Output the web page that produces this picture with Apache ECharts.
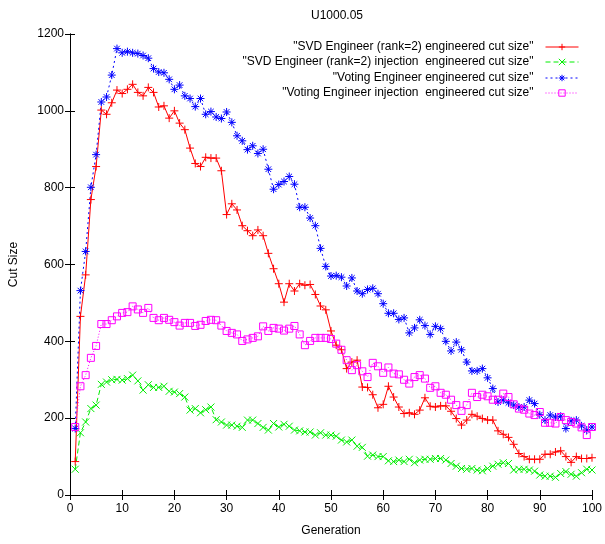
<!DOCTYPE html>
<html>
<head>
<meta charset="utf-8">
<script src="https://cdn.jsdelivr.net/npm/echarts@6/dist/echarts.min.js"></script>
<style>
html, body { margin: 0; padding: 0; background: #fff; }
#chart { width: 605px; height: 544px; }
</style>
</head>
<body>
<div id="chart"></div>
<script>
// generations 1..100
var generations = [];
for (var g = 1; g <= 100; g++) generations.push(g);

var svdCut = [87,465,573,769,855,1002,991,1021,1054,1045,1056,1069,1048,1039,1061,1048,1010,1013,981,1000,
  968,951,903,863,855,879,877,877,844,730,758,742,701,688,675,690,675,629,589,550,
  502,550,531,550,546,548,522,492,482,427,390,378,329,346,351,281,280,261,227,236,
  283,255,229,212,214,210,221,253,231,229,232,232,218,199,182,195,210,205,199,195,
  195,167,158,150,132,108,100,93,93,93,106,106,112,115,100,85,100,95,95,97];

var svdInjCut = [67,162,190,225,234,288,294,300,301,299,303,312,297,273,287,280,280,283,270,268,
  264,255,221,225,214,222,229,196,190,182,182,179,176,195,195,186,176,169,186,177,
  184,179,169,167,164,164,156,162,156,156,153,143,138,143,127,124,101,104,100,100,
  89,87,91,87,93,84,91,93,93,95,95,91,82,75,69,67,69,65,63,69,
  75,80,84,82,65,67,67,65,62,52,49,49,46,56,61,54,49,58,67,65];

var votingCut = [173,532,634,801,886,1023,1036,1093,1162,1151,1154,1151,1149,1144,1137,1110,1101,1099,1082,1056,
  1067,1039,1032,1011,1032,991,998,984,980,997,970,935,922,899,909,889,900,848,796,808,
  816,829,809,749,749,721,701,642,595,570,571,567,544,565,531,524,535,538,524,498,
  473,473,457,461,422,435,456,441,418,439,433,400,375,398,378,346,323,323,329,305,
  277,242,247,240,234,229,229,247,238,209,195,208,203,205,173,193,195,180,169,177];

var votingInjCut = [177,283,312,357,388,445,445,455,465,474,476,491,483,474,487,461,455,461,456,450,
  441,448,448,440,443,453,456,455,441,427,422,418,401,405,409,413,439,427,435,433,
  428,433,440,418,390,401,409,409,409,406,394,378,351,325,338,322,307,344,335,318,
  332,316,314,300,290,307,312,303,279,283,266,261,248,234,219,234,266,255,261,257,
  248,248,264,255,236,225,222,212,208,216,188,188,186,203,195,190,186,176,156,177];

var names = [
  '"SVD Engineer (rank=2) engineered cut size"',
  '"SVD Engineer (rank=2) injection  engineered cut size"',
  '"Voting Engineer engineered cut size"',
  '"Voting Engineer injection  engineered cut size"'
];

var xTicks = [0, 10, 20, 30, 40, 50, 60, 70, 80, 90, 100];
var yTicks = [0, 200, 400, 600, 800, 1000, 1200];

function pairs(vals) {
  return vals.map(function (v, i) { return [generations[i], v]; });
}

var plus = 'path://M0,5L10,5M5,0L5,10';
var cross = 'path://M0,0L10,10M10,0L0,10';
var star = 'path://M0,5L10,5M5,0L5,10M1.5,1.5L8.5,8.5M8.5,1.5L1.5,8.5';
var square = 'path://M0,0L10,0L10,10L0,10Z';

function makeSeries(name, vals, color, symbol, size, dash) {
  return {
    name: name,
    type: 'line',
    data: pairs(vals),
    color: color,
    symbol: symbol,
    symbolSize: size,
    showAllSymbol: true,
    animation: false,
    lineStyle: { color: color, width: 1, type: dash },
    itemStyle: { color: 'transparent', borderColor: color, borderWidth: 1 },
    emphasis: { disabled: true }
  };
}

var font = 'Liberation Sans';

var chart = echarts.init(document.getElementById('chart'));

var legendTops = [41, 56, 72, 87];
var legends = names.map(function (n, i) {
  return {
    data: [n],
    right: 26,
    top: legendTops[i],
    align: 'right',
    itemWidth: 33,
    itemHeight: 8,
    padding: 0,
    selectedMode: false,
    lineStyle: { width: 1 },
    itemStyle: { borderWidth: 1 },
    textStyle: { fontFamily: font, fontSize: 12, color: '#000', padding: [0, 7, 0, 0] }
  };
});

var axisCommon = {
  type: 'value',
  axisLine: { show: true, lineStyle: { color: '#000', width: 1 } },
  axisTick: { show: true, inside: true, length: 5, lineStyle: { color: '#000' } },
  splitLine: { show: false }
};

function plain(v) { return String(v); }

var option = {
  backgroundColor: '#fff',
  animation: false,
  title: {
    text: 'U1000.05',
    left: 332,
    textAlign: 'center',
    top: 5,
    textStyle: { fontFamily: font, fontSize: 12, fontWeight: 'normal', color: '#000' }
  },
  legend: legends,
  grid: { left: 70, right: 11, top: 34, bottom: 49 },
  xAxis: [
    Object.assign({}, axisCommon, {
      min: xTicks[0], max: xTicks[xTicks.length - 1], interval: 10,
      name: 'Generation', nameLocation: 'middle', nameGap: 30,
      nameTextStyle: { fontFamily: font, fontSize: 12, color: '#000' },
      axisLabel: { margin: 8, fontFamily: font, fontSize: 12, color: '#000', formatter: plain }
    }),
    Object.assign({}, axisCommon, {
      position: 'top', min: 0, max: 100, interval: 10,
      axisLabel: { show: false }
    })
  ],
  yAxis: [
    Object.assign({}, axisCommon, {
      min: yTicks[0], max: yTicks[yTicks.length - 1], interval: 200,
      name: 'Cut Size', nameLocation: 'middle', nameGap: 50,
      nameTextStyle: { fontFamily: font, fontSize: 12, color: '#000' },
      axisLabel: { margin: 6, fontFamily: font, fontSize: 12, color: '#000', formatter: plain }
    }),
    Object.assign({}, axisCommon, {
      position: 'right', min: 0, max: 1200, interval: 200,
      axisLabel: { show: false }
    })
  ],
  series: [
    makeSeries(names[0], svdCut, '#ff0000', plus, 8, 'solid'),
    makeSeries(names[1], svdInjCut, '#00ee00', cross, 7, [5, 3]),
    makeSeries(names[2], votingCut, '#0000ff', star, 8, [2, 3]),
    makeSeries(names[3], votingInjCut, '#ff00ff', square, 7, [1, 2])
  ]
};

chart.setOption(option);
</script>
</body>
</html>
